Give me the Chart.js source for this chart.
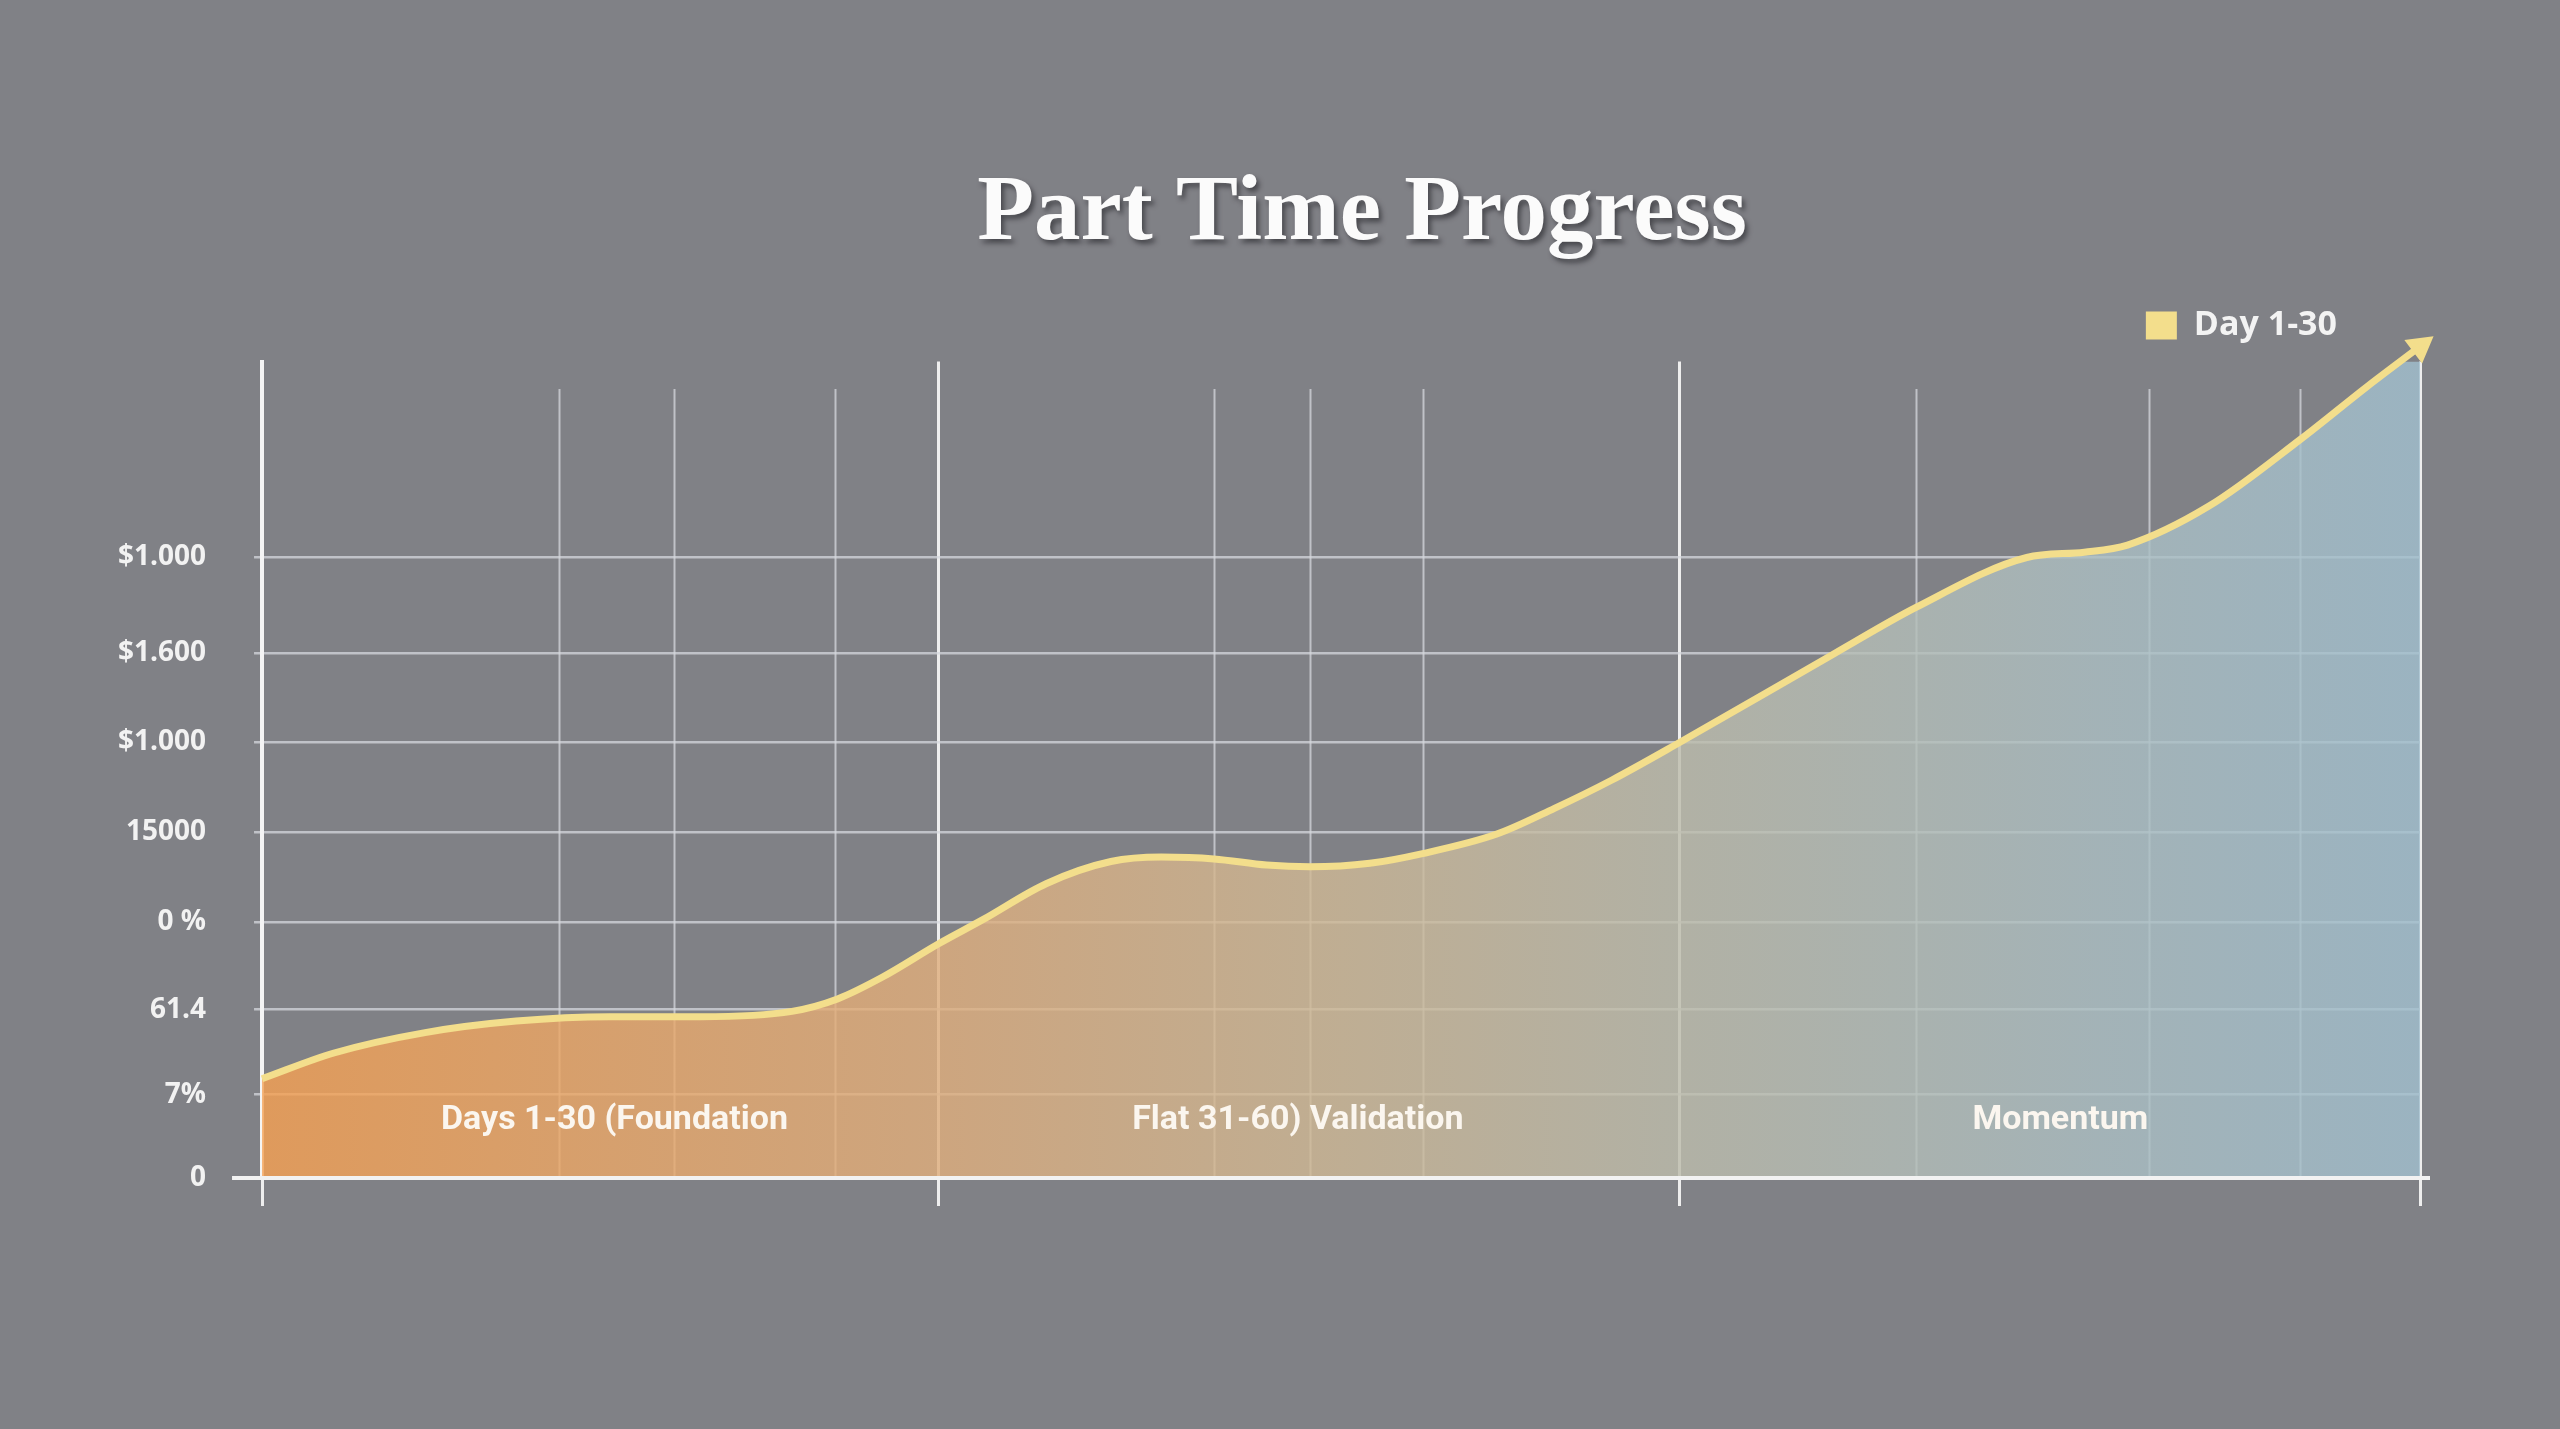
<!DOCTYPE html>
<html>
<head>
<meta charset="utf-8">
<title>Part Time Progress</title>
<script src="https://cdn.jsdelivr.net/npm/chart.js@4.4.1/dist/chart.umd.min.js"></script>
<style>
  html, body { margin: 0; padding: 0; background: rgb(128, 129, 134); }
  #wrap { width: 2560px; height: 1429px; }
</style>
</head>
<body>
<div id="wrap"><canvas id="progress"></canvas></div>
<script>
const chartTitle = 'Part Time Progress';
const seriesName = 'Day 1-30';

// x = day, y = height on the left axis (same units as yTickValues)
const days   = [0, 3, 6.8, 10.6, 14.5, 18.3, 22.1, 24, 25.9, 28.2, 30.1, 32.7, 35.4, 37.5, 39.7, 41.9, 43.7, 46.2, 48.4, 51.5, 53.9, 56.3, 59.1, 65.6, 69, 73.6, 76, 77.8, 81.2, 85, 87.8, 90];
const levels = [1.12, 1.41, 1.64, 1.77, 1.82, 1.82, 1.88, 2.02, 2.27, 2.64, 2.92, 3.32, 3.57, 3.62, 3.60, 3.53, 3.51, 3.55, 3.66, 3.88, 4.17, 4.49, 4.91, 5.92, 6.44, 7.0, 7.06, 7.14, 7.58, 8.33, 8.93, 9.38];

// the left axis labels are not evenly spaced in the picture
const yTickLabels = ['0', '7%', '61.4', '0 %', '15000', '$1.000', '$1.600', '$1.000'];
const yTickValues = [0, 0.94, 1.9, 2.89, 3.9, 4.92, 5.92, 7];

const phaseBounds = [0, 28.2, 59.1, 90];
const minorDays = [12.4, 17.2, 23.9, 39.7, 43.7, 48.4, 69.0, 78.7, 85.0];
const phaseLabels = ['Days 1-30 (Foundation', 'Flat 31-60) Validation', 'Momentum'];
const phaseLabelDays = [14.7, 43.2, 75.0];

const lineColor = '#f3de8c';
const gridColor = 'rgba(214, 216, 222, 0.75)';

function fillGradient(context) {
    const chart = context.chart;
    const area = chart.chartArea;
    if (!area) return 'rgba(200,170,130,0.8)';
    const g = chart.ctx.createLinearGradient(area.left, 0, area.right, 0);
    g.addColorStop(0, 'rgba(244, 160, 83, 0.82)');
    g.addColorStop(0.32, 'rgba(222, 174, 126, 0.82)');
    g.addColorStop(0.5, 'rgba(205, 184, 150, 0.82)');
    g.addColorStop(0.66, 'rgba(188, 188, 172, 0.82)');
    g.addColorStop(0.85, 'rgba(171, 190, 194, 0.82)');
    g.addColorStop(1, 'rgba(161, 191, 206, 0.82)');
    return g;
}

const decor = {
    id: 'decor',
    afterLayout(chart) {
        // legend sits a little in from the right edge and a bit higher,
        // title a little right of centre
        const lg = chart.legend;
        lg.left -= 73;
        lg.right -= 73;
        lg.top -= 9;
        lg.bottom -= 9;
        if (chart.titleBlock) {
            chart.titleBlock.left += 117;
            chart.titleBlock.right += 117;
        }
    },
    beforeDraw(chart) {
        const t = chart.titleBlock;
        if (t && !t._shadowed) {
            const draw = t.draw.bind(t);
            t.draw = function () {
                const ctx = chart.ctx;
                ctx.save();
                ctx.shadowColor = 'rgba(35, 35, 40, 0.6)';
                ctx.shadowOffsetX = 3;
                ctx.shadowOffsetY = 4;
                ctx.shadowBlur = 5;
                draw();
                ctx.restore();
            };
            t._shadowed = true;
        }
    },
    beforeDatasetsDraw(chart) {
        const {ctx, scales: {x, y}} = chart;
        ctx.save();
        ctx.strokeStyle = gridColor;
        ctx.lineWidth = 2;
        const top = y.getPixelForValue(8.9);
        const bottom = y.getPixelForValue(0);
        minorDays.forEach(d => {
            const px = Math.round(x.getPixelForValue(d)) + 0.5;
            ctx.beginPath();
            ctx.moveTo(px, top);
            ctx.lineTo(px, bottom);
            ctx.stroke();
        });
        ctx.restore();
    },
    afterDatasetsDraw(chart) {
        const {ctx, scales: {x, y}} = chart;
        ctx.save();
        // baseline runs a bit past both ends
        const by = y.getPixelForValue(0);
        ctx.strokeStyle = '#f2f2f2';
        ctx.lineWidth = 4;
        ctx.beginPath();
        ctx.moveTo(x.getPixelForValue(0) - 30, by);
        ctx.lineTo(x.getPixelForValue(90) + 10, by);
        ctx.stroke();

        ctx.fillStyle = '#fbf6ef';
        ctx.font = 'bold 34px Roboto, "Open Sans", sans-serif';
        ctx.textAlign = 'center';
        ctx.textBaseline = 'middle';
        phaseLabels.forEach((txt, i) => {
            ctx.fillText(txt, x.getPixelForValue(phaseLabelDays[i]), y.getPixelForValue(0.65));
        });
        ctx.restore();
    }
};

Chart.defaults.font.family = '"Open Sans", sans-serif';

new Chart(document.getElementById('progress'), {
    type: 'line',
    data: {
        datasets: [{
            label: seriesName,
            data: days.map((d, i) => ({x: d, y: levels[i]})),
            borderColor: lineColor,
            borderWidth: 7,
            backgroundColor: fillGradient,
            fill: 'origin',
            cubicInterpolationMode: 'monotone',
            clip: false,
            pointStyle: 'triangle',
            rotation: 53,
            pointRadius: ctx => ctx.dataIndex === days.length - 1 ? 12 : 0,
            pointBackgroundColor: lineColor,
            pointBorderColor: lineColor,
            pointBorderWidth: 5
        }]
    },
    options: {
        responsive: true,
        maintainAspectRatio: false,
        devicePixelRatio: 1,
        animation: false,
        events: [],
        layout: {
            padding: {left: 70, right: 140, top: 0, bottom: 223}
        },
        plugins: {
            title: {
                display: true,
                text: chartTitle,
                color: '#fbfbfb',
                font: {family: '"Liberation Serif", serif', size: 93, weight: 'bold'},
                padding: {top: 159, bottom: 37}
            },
            legend: {
                display: true,
                position: 'top',
                align: 'end',
                labels: {
                    boxWidth: 31,
                    boxHeight: 28,
                    padding: 10,
                    font: {size: 34, weight: 'bold'},
                    generateLabels: () => [{
                        text: seriesName,
                        fillStyle: lineColor,
                        strokeStyle: lineColor,
                        lineWidth: 0,
                        fontColor: '#f3f3f3',
                        hidden: false,
                        datasetIndex: 0
                    }]
                }
            },
            tooltip: {enabled: false}
        },
        scales: {
            x: {
                type: 'linear',
                min: 0,
                max: 90,
                afterBuildTicks: scale => { scale.ticks = phaseBounds.map(v => ({value: v})); },
                ticks: {display: false},
                grid: {
                    color: '#eeeeee',
                    lineWidth: 3,
                    tickLength: 28,
                    tickColor: '#eeeeee',
                    tickWidth: 3
                },
                border: {display: true, color: '#f2f2f2', width: 4}
            },
            y: {
                type: 'linear',
                min: 0,
                max: 9.21,
                afterBuildTicks: scale => { scale.ticks = yTickValues.map(v => ({value: v})); },
                ticks: {
                    color: '#f2f2f2',
                    padding: 48,
                    font: {size: 28, weight: 'bold'},
                    callback: v => yTickLabels[yTickValues.indexOf(v)]
                },
                grid: {
                    color: gridColor,
                    lineWidth: 2.5,
                    tickLength: 8,
                    tickColor: gridColor
                },
                border: {display: true, color: '#f4f4f4', width: 4}
            }
        }
    },
    plugins: [decor]
});
</script>
</body>
</html>
